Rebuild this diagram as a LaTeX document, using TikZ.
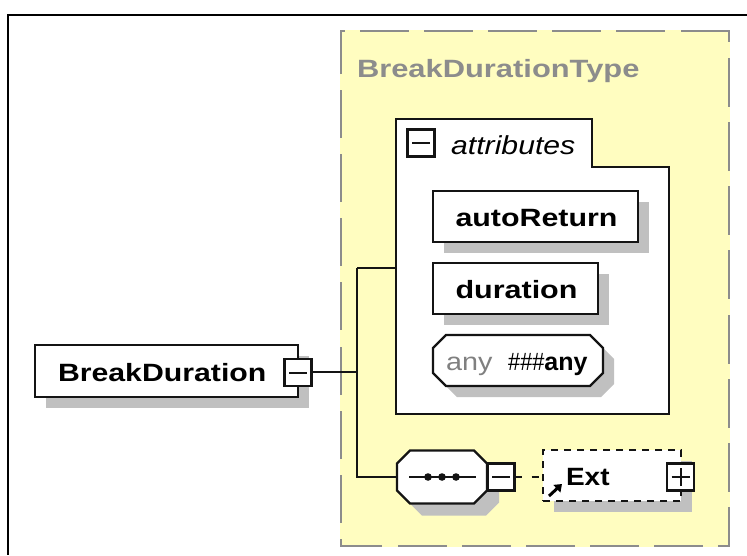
\documentclass[tikz,border=0pt]{standalone}
\usepackage{fontspec}
\usepackage{graphicx}
\setmainfont{Liberation Sans}
\usetikzlibrary{shadows,arrows.meta}
\definecolor{typefill}{HTML}{FFFDC0}
\definecolor{typeline}{HTML}{8C8C8C}
\definecolor{shadowgray}{HTML}{C0C0C0}
\definecolor{ink}{HTML}{141414}
\newcommand\wide[1]{\scalebox{1.21}[1]{#1}}
% octagon outline on the corners of an already placed node; #1 = diagonal offset
\newcommand\octpath[2]{([xshift=#1+13pt,yshift=-#1]#2.north west) -- ([xshift=#1-13pt,yshift=-#1]#2.north east) -- ([xshift=#1,yshift=-#1-13pt]#2.north east) -- ([xshift=#1,yshift=-#1+13pt]#2.south east) -- ([xshift=#1-13pt,yshift=-#1]#2.south east) -- ([xshift=#1+13pt,yshift=-#1]#2.south west) -- ([xshift=#1,yshift=-#1+13pt]#2.south west) -- ([xshift=#1,yshift=-#1-13pt]#2.north west) -- cycle}
\tikzset{
  x=1pt,y=-1pt,
  shad/.style={drop shadow={shadow xshift=11pt,shadow yshift=-11pt,fill=shadowgray,opacity=1}},
  elem/.style={draw=ink,fill=white,line width=2.2pt,inner sep=0pt,outer sep=0pt,shad,
    text depth=0pt,font=\fontsize{25}{25}\selectfont\bfseries},
  octframe/.style={inner sep=0pt,outer sep=0pt},
  toggle/.style={draw=ink,fill=white,line width=2.2pt,inner sep=0pt,outer sep=0pt,minimum width=27pt,minimum height=27pt},
  sign/.style={line width=2pt,draw=ink},
  wire/.style={line width=2.2pt,draw=ink},
  typedash/.style={line width=2.2pt,draw=typeline,line cap=butt},
  lbl/.style={inner sep=0pt,outer sep=0pt,anchor=base west,font=\fontsize{25}{25}\selectfont\bfseries}
}
\begin{document}
\begin{tikzpicture}
\useasboundingbox[fill=white] (0,0) rectangle (747,555);
% outer frame
\draw[line width=2.6pt,black] (747,15) -- (8,15) -- (8,555);
% complex type area
\fill[typefill] (340,30) rectangle (730,547);
\draw[typedash] (341,74) -- (341,31) -- (345,31);
\foreach \s in {360,424,488,552,616} \draw[typedash] (\s,31) -- (\s+49,31);
\draw[typedash] (681,31) -- (729,31) -- (729,42);
\foreach \s in {58,122,186,250,315,379,443} \draw[typedash] (729,\s) -- (729,\s+49);
\draw[typedash] (729,507) -- (729,546) -- (718,546);
\foreach \s in {398,462,526,590,654} \draw[typedash] (\s,546) -- (\s+49,546);
\draw[typedash] (382,546) -- (341,546) -- (341,539);
\foreach \s in {90,154,218,282,347,411,475} \draw[typedash] (341,\s) -- (341,\s+48);
\node[lbl,text=typeline] (typename) at (357,77) {\scalebox{1.235}[1]{BreakDurationType}};
% attributes container
\draw[wire,fill=white] (396,119) -- (592,119) -- (592,167) -- (669,167) -- (669,414) -- (396,414) -- cycle;
\node[toggle] (attrtoggle) at (421,143) {};
\draw[sign] ([xshift=-9pt]attrtoggle.center) -- ([xshift=9pt]attrtoggle.center);
\node[inner sep=0pt,anchor=base west,font=\fontsize{26}{26}\selectfont\itshape] (attrname) at (451,154) {\scalebox{1.16}[1]{attributes}};
\coordinate (attrport) at (396,268);
\node[elem,minimum width=205pt,minimum height=51pt,text height=19pt] (autoreturn) at (535.5,216.5) {\hspace{2pt}\scalebox{1.215}[1]{autoReturn}};
\node[elem,minimum width=165pt,minimum height=51pt,text height=19pt] (duration) at (515.5,288.5) {\hspace{2pt}\scalebox{1.22}[1]{duration}};
% any attribute
\node[octframe,minimum width=170pt,minimum height=51pt] (anyattr) at (518,360.5) {};
\fill[shadowgray] \octpath{11pt}{anyattr};
\draw[wire,fill=white] \octpath{0pt}{anyattr};
\node[inner sep=0pt,anchor=base west,text=black!50,font=\fontsize{25}{25}\selectfont] (anylabel) at (446,370) {\scalebox{1.15}[1]{any}};
\node[inner sep=0pt,anchor=base west,font=\fontsize{25}{25}\selectfont] (anyvalue) at (508,370) {\scalebox{.87}[1]{\#\#\#}\scalebox{1.0}[1]{\bfseries any}};
% root element
\node[elem,minimum width=263pt,minimum height=52pt] (root) at (166.5,371) {};
\node[lbl] (rootname) at (58,381) {\wide{BreakDuration}};
\node[toggle] (roottoggle) at (298,372.5) {};
\draw[sign] ([xshift=-9pt]roottoggle.center) -- ([xshift=9pt]roottoggle.center);
% sequence
\node[octframe,minimum width=90pt,minimum height=53pt] (seq) at (442,477) {};
\fill[shadowgray] \octpath{12pt}{seq};
\draw[wire,fill=white] \octpath{0pt}{seq};
\coordinate (seqa) at (409,477);
\coordinate (seqb) at (476,477);
\draw[sign] (seqa) -- (seqb);
\fill[ink] (428,477) circle (3.8pt) (442,477) circle (3.8pt) (456,477) circle (3.8pt);
\node[toggle] (seqtoggle) at (501,477) {};
\draw[sign] ([xshift=-9pt]seqtoggle.center) -- ([xshift=9pt]seqtoggle.center);
% Ext reference
\node[elem,dash pattern=on 7pt off 6pt,minimum width=138pt,minimum height=51pt] (ext) at (612,475.5) {};
\node[lbl] (extname) at (566,485) {\scalebox{1.12}[1]{Ext}};
\node[toggle] (exttoggle) at (680.5,477) {};
\draw[sign] ([xshift=-9pt]exttoggle.center) -- ([xshift=9pt]exttoggle.center);
\draw[sign] ([yshift=-9pt]exttoggle.center) -- ([yshift=9pt]exttoggle.center);
\coordinate (refa) at (549,496);
\coordinate (refb) at (562,484);
\draw[line width=3pt,black,-{Triangle[length=7pt,width=10pt]}] (refa) -- (refb);
% connectors
\coordinate (fork) at (357,372);
\draw[wire] (roottoggle.east |- fork) -- (fork);
\draw[wire] (attrport -| fork) -- (attrport);
\draw[wire] (attrport -| fork) |- (seq.west);
\draw[wire,dash pattern=on 7pt off 10pt] (seqtoggle.east) -- (ext.west |- seqtoggle.east);
\end{tikzpicture}
\end{document}
